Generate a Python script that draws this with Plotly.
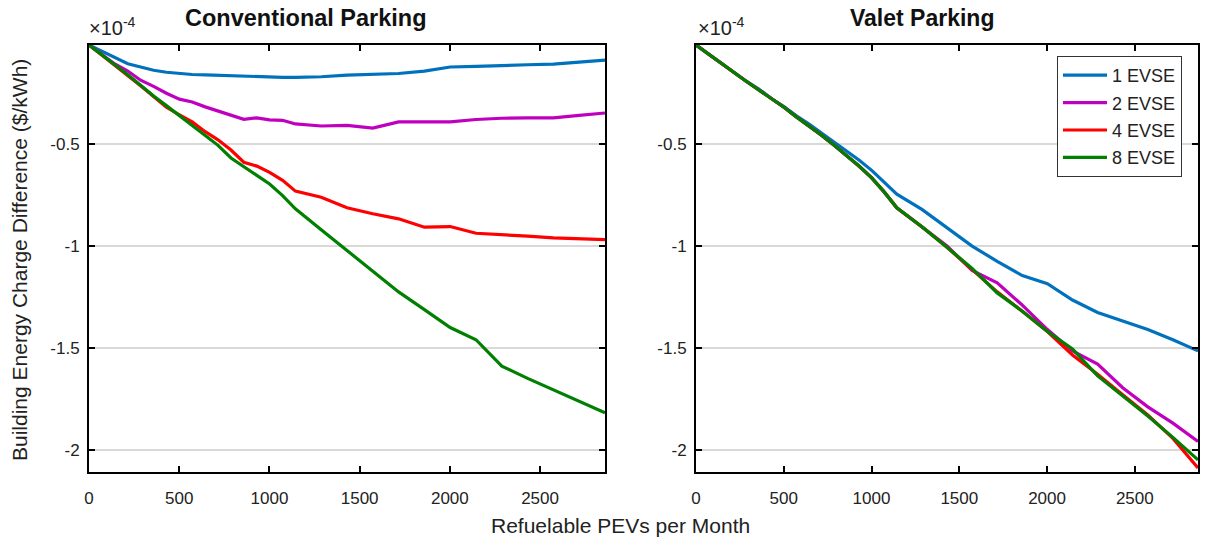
import plotly.graph_objects as go

# Refuelable PEVs per month (x samples)
pevs = [0, 72, 143, 215, 286, 358, 429, 501, 572, 644, 715, 787, 858, 930, 1001,
        1073, 1144, 1287, 1430, 1573, 1716, 1859, 2002, 2145, 2288, 2431, 2574, 2717, 2860]

# Building energy charge difference, in units of 1e-4 $/kWh
conv_1 = [-0.012, -0.042, -0.075, -0.104, -0.120, -0.136, -0.146, -0.152, -0.157, -0.159, -0.161,
          -0.164, -0.167, -0.170, -0.172, -0.171, -0.171, -0.168, -0.160, -0.156, -0.152, -0.140,
          -0.120, -0.117, -0.112, -0.109, -0.106, -0.097, -0.086]
conv_2 = [-0.012, -0.060, -0.105, -0.140, -0.185, -0.215, -0.249, -0.278, -0.292, -0.316, -0.336,
          -0.356, -0.377, -0.370, -0.380, -0.382, -0.400, -0.410, -0.407, -0.420, -0.390, -0.390,
          -0.390, -0.378, -0.372, -0.370, -0.370, -0.358, -0.346]
conv_4 = [-0.012, -0.062, -0.112, -0.160, -0.212, -0.265, -0.318, -0.355, -0.390, -0.438, -0.478,
          -0.528, -0.588, -0.607, -0.638, -0.677, -0.730, -0.760, -0.812, -0.841, -0.866, -0.907,
          -0.904, -0.937, -0.943, -0.951, -0.960, -0.965, -0.968]
conv_8 = [-0.012, -0.060, -0.110, -0.158, -0.210, -0.263, -0.310, -0.358, -0.408, -0.455, -0.505,
          -0.567, -0.610, -0.655, -0.695, -0.752, -0.817, -0.920, -1.020, -1.120, -1.225, -1.312,
          -1.400, -1.460, -1.590, -1.650, -1.705, -1.760, -1.819]

valet_1 = [-0.012, -0.058, -0.103, -0.148, -0.190, -0.228, -0.275, -0.315, -0.360, -0.400, -0.445,
           -0.487, -0.532, -0.578, -0.628, -0.685, -0.745, -0.820, -0.910, -1.000, -1.075, -1.145,
           -1.185, -1.265, -1.326, -1.370, -1.410, -1.460, -1.515]
valet_2 = [-0.012, -0.058, -0.103, -0.148, -0.190, -0.233, -0.275, -0.318, -0.365, -0.410, -0.455,
           -0.505, -0.555, -0.608, -0.665, -0.735, -0.812, -0.905, -1.000, -1.120, -1.180, -1.290,
           -1.410, -1.515, -1.580, -1.696, -1.790, -1.870, -1.960]
valet_4 = [-0.012, -0.058, -0.103, -0.148, -0.190, -0.233, -0.275, -0.318, -0.365, -0.410, -0.455,
           -0.505, -0.555, -0.608, -0.665, -0.735, -0.812, -0.905, -1.006, -1.115, -1.225, -1.320,
           -1.420, -1.535, -1.630, -1.730, -1.830, -1.945, -2.090]
valet_8 = [-0.012, -0.058, -0.103, -0.148, -0.190, -0.233, -0.275, -0.318, -0.365, -0.410, -0.455,
           -0.505, -0.555, -0.608, -0.665, -0.735, -0.812, -0.905, -1.006, -1.110, -1.230, -1.320,
           -1.420, -1.505, -1.638, -1.735, -1.835, -1.940, -2.050]

series_names = ["1 EVSE", "2 EVSE", "4 EVSE", "8 EVSE"]
series_colors = ["#0072BD", "#BF00BF", "#FF0000", "#008000"]
panel_titles = ["Conventional Parking", "Valet Parking"]
x_ticks = [0, 500, 1000, 1500, 2000, 2500]
y_ticks = [-2, -1.5, -1, -0.5]
y_ticktext = ["-2", "-1.5", "-1", "-0.5"]

W, H = 1219, 543
FONT = "Liberation Sans, Arial, sans-serif"

fig = go.Figure()
panels = [(conv_1, conv_2, conv_4, conv_8), (valet_1, valet_2, valet_4, valet_8)]
for p, data in enumerate(panels):
    xa = "x" if p == 0 else "x2"
    ya = "y" if p == 0 else "y2"
    for name, color, vals in zip(series_names, series_colors, data):
        fig.add_trace(go.Scatter(
            x=pevs, y=vals, mode="lines", name=name,
            line=dict(color=color, width=3.2),
            xaxis=xa, yaxis=ya, showlegend=(p == 1),
            legendgroup=name,
        ))

def px_x(v):
    return v / W

def px_y(v):
    return 1 - v / H

axis_common = dict(
    showline=True, linecolor="black", linewidth=2, mirror="ticks",
    ticks="inside", ticklen=6, tickwidth=2, tickcolor="black",
    tickfont=dict(family=FONT, size=17, color="#222222"),
    zeroline=False, automargin=False,
)

xdomains = [[px_x(89), px_x(605)], [px_x(696), px_x(1198)]]
ydomain = [px_y(472), px_y(45)]

fig.update_layout(
    width=W, height=H,
    margin=dict(l=0, r=0, t=0, b=0),
    paper_bgcolor="white", plot_bgcolor="white",
    font=dict(family=FONT, color="#222222"),
    xaxis=dict(domain=xdomains[0], range=[0, 2860], tickvals=x_ticks, showgrid=False,
               anchor="y", ticklabelstandoff=10, **axis_common),
    yaxis=dict(domain=ydomain, range=[-2.11, -0.012], tickvals=y_ticks, ticktext=y_ticktext,
               showgrid=True, gridcolor="#d9d9d9", gridwidth=2, anchor="x",
               ticklabelstandoff=4, **axis_common),
    xaxis2=dict(domain=xdomains[1], range=[0, 2860], tickvals=x_ticks, showgrid=False,
                anchor="y2", ticklabelstandoff=10, **axis_common),
    yaxis2=dict(domain=ydomain, range=[-2.11, -0.012], tickvals=y_ticks, ticktext=y_ticktext,
                showgrid=True, gridcolor="#d9d9d9", gridwidth=2, anchor="x2",
                ticklabelstandoff=4, **axis_common),
    legend=dict(
        x=px_x(1182), xanchor="right", y=px_y(56), yanchor="top",
        bgcolor="white", bordercolor="#333333", borderwidth=1,
        font=dict(family=FONT, size=18, color="#222222"),
        traceorder="grouped", tracegroupgap=1, itemwidth=44,
    ),
)

annotations = []
title_centers = [306, 922]
title_sizes = [23.5, 23]
for t, cx, fs in zip(panel_titles, title_centers, title_sizes):
    annotations.append(dict(
        text="<b>%s</b>" % t, x=px_x(cx), y=px_y(18), xref="paper", yref="paper",
        xanchor="center", yanchor="middle", showarrow=False,
        font=dict(family=FONT, size=fs, color="#111111"),
    ))
for left in [87, 696]:
    annotations.append(dict(
        text="×10<sup>-4</sup>", x=px_x(left), y=px_y(41), xref="paper", yref="paper",
        xanchor="left", yanchor="bottom", showarrow=False,
        font=dict(family=FONT, size=20, color="#222222"),
    ))
annotations.append(dict(
    text="Refuelable PEVs per Month", x=px_x(620), y=px_y(525), xref="paper", yref="paper",
    xanchor="center", yanchor="middle", showarrow=False,
    font=dict(family=FONT, size=21, color="#222222"),
))
annotations.append(dict(
    text="Building Energy Charge Difference ($/kWh)", x=px_x(19), y=px_y(260),
    xref="paper", yref="paper", xanchor="center", yanchor="middle", showarrow=False,
    textangle=-90, font=dict(family=FONT, size=21, color="#222222"),
))
fig.update_layout(annotations=annotations)

fig.write_html("out.html")
